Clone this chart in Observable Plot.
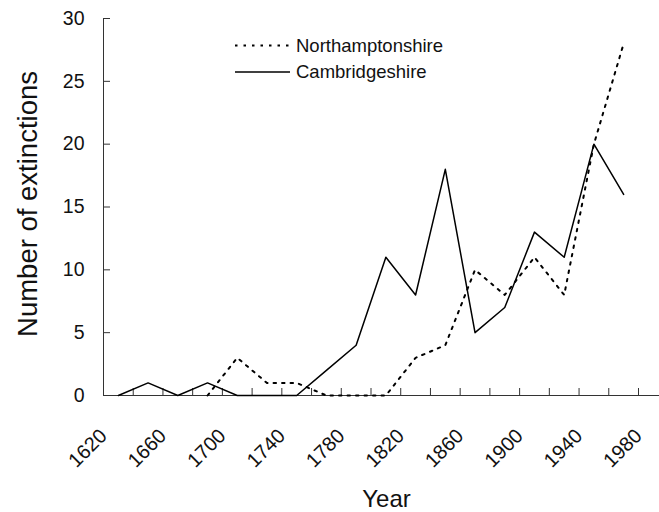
<!DOCTYPE html>
<html>
<head>
<meta charset="utf-8">
<script src="https://cdn.jsdelivr.net/npm/d3@7"></script>
<script src="https://cdn.jsdelivr.net/npm/@observablehq/plot@0.6"></script>
<style>
  html, body { margin: 0; padding: 0; background: #fff; }
  #chart svg { display: block; font-family: "Liberation Sans", Arial, sans-serif; }
</style>
</head>
<body>
<div id="chart"></div>
<script>
const cambYears = [1630, 1650, 1670, 1690, 1710, 1730, 1750, 1770, 1790, 1810, 1830, 1850, 1870, 1890, 1910, 1930, 1950, 1970];
const cambValues = [0, 1, 0, 1, 0, 0, 0, 2, 4, 11, 8, 18, 5, 7, 13, 11, 20, 16];
const northYears = [1690, 1710, 1730, 1750, 1770, 1790, 1810, 1830, 1850, 1870, 1890, 1910, 1930, 1950, 1970];
const northValues = [0, 3, 1, 1, 0, 0, 0, 3, 4, 10, 8, 11, 8, 20, 28];
const xTickYears = [1620, 1640, 1660, 1680, 1700, 1720, 1740, 1760, 1780, 1800, 1820, 1840, 1860, 1880, 1900, 1920, 1940, 1960, 1980];
const xLabelYears = [1620, 1660, 1700, 1740, 1780, 1820, 1860, 1900, 1940, 1980];
const yTicks = [0, 5, 10, 15, 20, 25, 30];
const seriesNames = ["Northamptonshire", "Cambridgeshire"];

const camb = cambYears.map((y, i) => ({year: y, value: cambValues[i]}));
const north = northYears.map((y, i) => ({year: y, value: northValues[i]}));

const axisColor = "#333";
const font = "'Liberation Sans', Arial, sans-serif";
const dotDash = "2.5,6";

const plot = Plot.plot({
  width: 659,
  height: 512,
  marginLeft: 103,
  marginRight: 0,
  marginTop: 18,
  marginBottom: 117,
  style: {fontFamily: font, background: "#fff", overflow: "visible"},
  x: {type: "linear", domain: [1620, 1980], range: [103, 638], axis: null},
  y: {domain: [0, 30], range: [395, 18], axis: null},
  marks: [
    Plot.axisY({ticks: yTicks, tickSize: 0, tickPadding: 19, fontSize: 19.5, fill: "#111", label: null}),
    Plot.axisY({ticks: yTicks, tickSize: 7, dx: 7, text: null, label: null, stroke: axisColor}),
    Plot.axisX({ticks: xTickYears, tickSize: 7, dy: -7, text: null, label: null, stroke: axisColor}),
    Plot.ruleX([1620], {y1: 0, y2: 30, stroke: axisColor, strokeWidth: 1}),
    Plot.ruleY([0], {stroke: axisColor, strokeWidth: 1}),
    Plot.text(xLabelYears, {x: d => d, y: 0, dy: 37, rotate: -45, textAnchor: "end", lineAnchor: "middle", fontSize: 20, fill: "#111", text: d => String(d)}),
    Plot.line(north, {x: "year", y: "value", stroke: "#000", strokeWidth: 2, strokeDasharray: dotDash}),
    Plot.line(camb, {x: "year", y: "value", stroke: "#000", strokeWidth: 1.5}),
    Plot.text(["Number of extinctions"], {frameAnchor: "left", textAnchor: "middle", lineAnchor: "middle", dx: -75, dy: -3, rotate: -90, fontSize: 27.5, fill: "#111"}),
    Plot.text(["Year"], {frameAnchor: "bottom", textAnchor: "middle", lineAnchor: "middle", dx: 5, dy: 104, fontSize: 24, fill: "#111"})
  ]
});

document.getElementById("chart").appendChild(plot);

const svg = d3.select(plot);
const lg = svg.append("g").attr("font-family", font).attr("font-size", 18.5).attr("fill", "#111").attr("text-anchor", "start");
const legendRows = [
  {name: seriesNames[0], y: 45.5, dash: dotDash, width: 2},
  {name: seriesNames[1], y: 72, dash: null, width: 1.5}
];
legendRows.forEach(r => {
  const ln = lg.append("line").attr("x1", 235).attr("x2", 290).attr("y1", r.y).attr("y2", r.y)
    .attr("stroke", "#000").attr("stroke-width", r.width);
  if (r.dash) ln.attr("stroke-dasharray", r.dash);
  lg.append("text").attr("x", 296).attr("y", r.y).attr("dy", "0.35em").attr("text-anchor", "start").text(r.name);
});
</script>
</body>
</html>
